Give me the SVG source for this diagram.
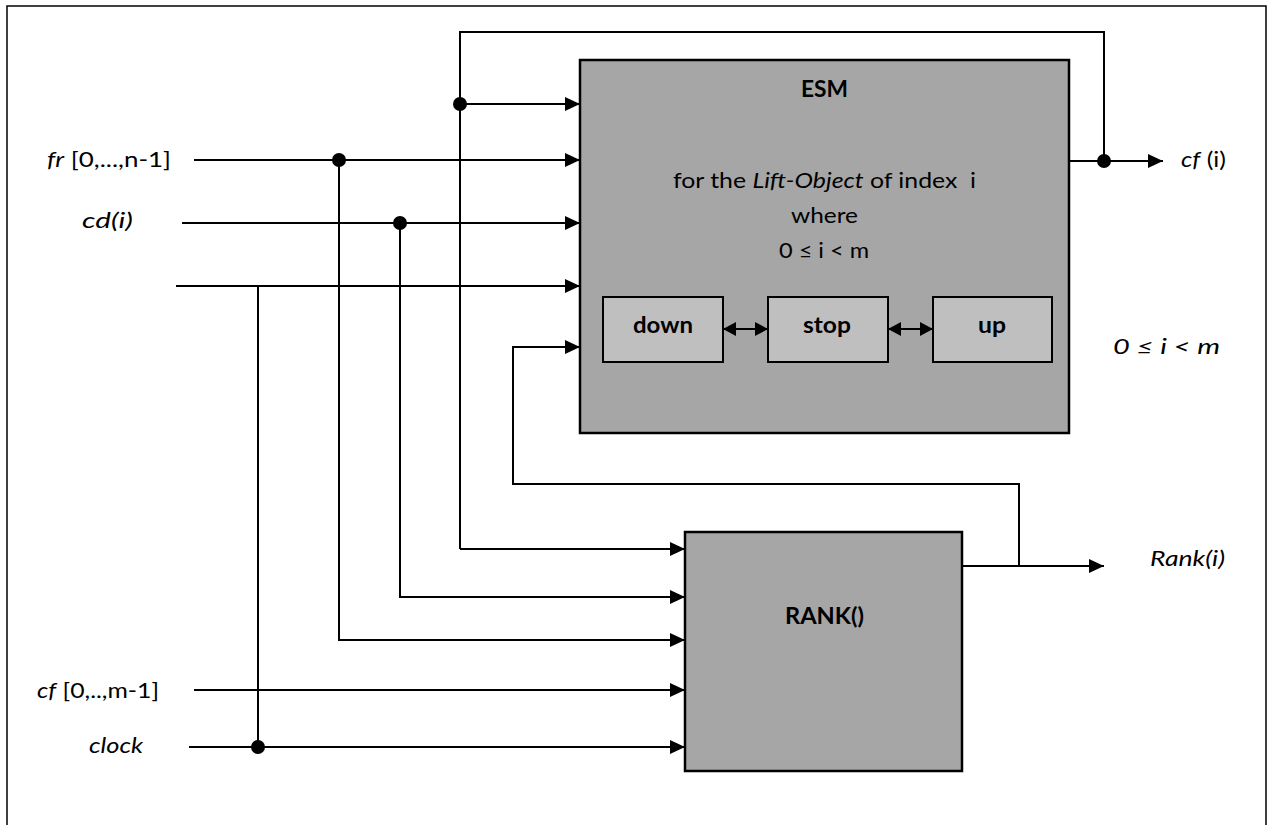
<svg xmlns="http://www.w3.org/2000/svg" width="1269" height="825" viewBox="0 0 1269 825">
<defs>
<marker id="ar" viewBox="0 0 15 14" refX="15" refY="7" markerWidth="15" markerHeight="14" markerUnits="userSpaceOnUse" orient="auto">
<path d="M0,0 L15,7 L0,14 Z" fill="#000"/>
</marker>
<marker id="arS" viewBox="0 0 13 14" refX="13" refY="7" markerWidth="13" markerHeight="14" markerUnits="userSpaceOnUse" orient="auto-start-reverse">
<path d="M0,0 L13,7 L0,14 Z" fill="#000"/>
</marker>
<style>
.w{fill:none;stroke:#000;stroke-width:2}
.a{fill:none;stroke:#000;stroke-width:2;marker-end:url(#ar)}
.d{fill:none;stroke:#000;stroke-width:2;marker-start:url(#arS);marker-end:url(#arS)}
.box{fill:#a6a6a6;stroke:#000;stroke-width:2.5}
.sub{fill:#bfbfbf;stroke:#000;stroke-width:2}
.t{font-family:Lato,"Liberation Sans",sans-serif;font-size:21px;fill:#000}
.b{font-weight:bold;font-size:22px}
.i{font-style:italic}
</style>
</defs>
<rect width="1269" height="825" fill="#fff"/>
<path d="M7,830 V6 H1266 V830" fill="none" stroke="#000" stroke-width="1.5"/>
<g id="esm">
<rect class="box" x="580" y="60" width="489" height="373"/>
<text class="t b" x="801" y="97" textLength="47" lengthAdjust="spacingAndGlyphs">ESM</text>
<text class="t" x="673" y="188" textLength="303" lengthAdjust="spacingAndGlyphs">for the <tspan class="i">Lift-Object</tspan> of index&#160; i</text>
<text class="t" x="791" y="223" textLength="67" lengthAdjust="spacingAndGlyphs">where</text>
<text class="t" x="779" y="258" textLength="90" lengthAdjust="spacingAndGlyphs">0 ≤ i &lt; m</text>
</g>
<g id="down"><rect class="sub" x="603" y="297" width="120" height="65"/><text class="t b" x="633" y="333" textLength="60" lengthAdjust="spacingAndGlyphs">down</text></g>
<g id="stop"><rect class="sub" x="768" y="297" width="120" height="65"/><text class="t b" x="803" y="333" textLength="48" lengthAdjust="spacingAndGlyphs">stop</text></g>
<g id="up"><rect class="sub" x="933" y="297" width="119" height="65"/><text class="t b" x="978" y="333" textLength="28" lengthAdjust="spacingAndGlyphs">up</text></g>
<g id="rank">
<rect class="box" x="685" y="532" width="277" height="239"/>
<text class="t b" x="785" y="624" textLength="79" lengthAdjust="spacingAndGlyphs">RANK()</text>
</g>
<g id="labels">
<text class="t" x="47" y="167" textLength="124" lengthAdjust="spacingAndGlyphs"><tspan class="i">fr</tspan> [0,...,n-1]</text>
<text class="t i" x="82" y="228" textLength="51" lengthAdjust="spacingAndGlyphs">cd(i)</text>
<text class="t" x="37" y="698" textLength="122" lengthAdjust="spacingAndGlyphs"><tspan class="i">cf</tspan> [0,..,m-1]</text>
<text class="t i" x="89" y="753" textLength="54" lengthAdjust="spacingAndGlyphs">clock</text>
<text class="t" x="1181" y="167" textLength="45" lengthAdjust="spacingAndGlyphs"><tspan class="i">cf</tspan> (i)</text>
<text class="t i" x="1113" y="354" textLength="107" lengthAdjust="spacingAndGlyphs">0 ≤ i &lt; m</text>
<text class="t i" x="1150" y="566" textLength="75" lengthAdjust="spacingAndGlyphs">Rank(i)</text>
</g>
<g id="connectors">
<path class="w" d="M460,549 V32 H1104 V161"/>
<path class="a" d="M460,104 H580"/>
<path class="a" d="M194,160 H580"/>
<path class="a" d="M182,223 H580"/>
<path class="a" d="M176,286 H580"/>
<path class="a" d="M1019,566 V484 H513 V347 H580"/>
<path class="a" d="M1069,161 H1163"/>
<path class="d" d="M723,329 H768"/>
<path class="d" d="M888,329 H933"/>
<path class="a" d="M460,549 H685"/>
<path class="a" d="M400,223 V597 H685"/>
<path class="a" d="M339,160 V640 H685"/>
<path class="a" d="M194,690 H685"/>
<path class="a" d="M189,747 H685"/>
<path class="w" d="M258,286 V747"/>
<path class="a" d="M962,566 H1104"/>
<circle cx="460" cy="104" r="7"/>
<circle cx="339" cy="160" r="7"/>
<circle cx="400" cy="223" r="7"/>
<circle cx="258" cy="747" r="7"/>
<circle cx="1104" cy="161" r="7"/>
</g>
</svg>
